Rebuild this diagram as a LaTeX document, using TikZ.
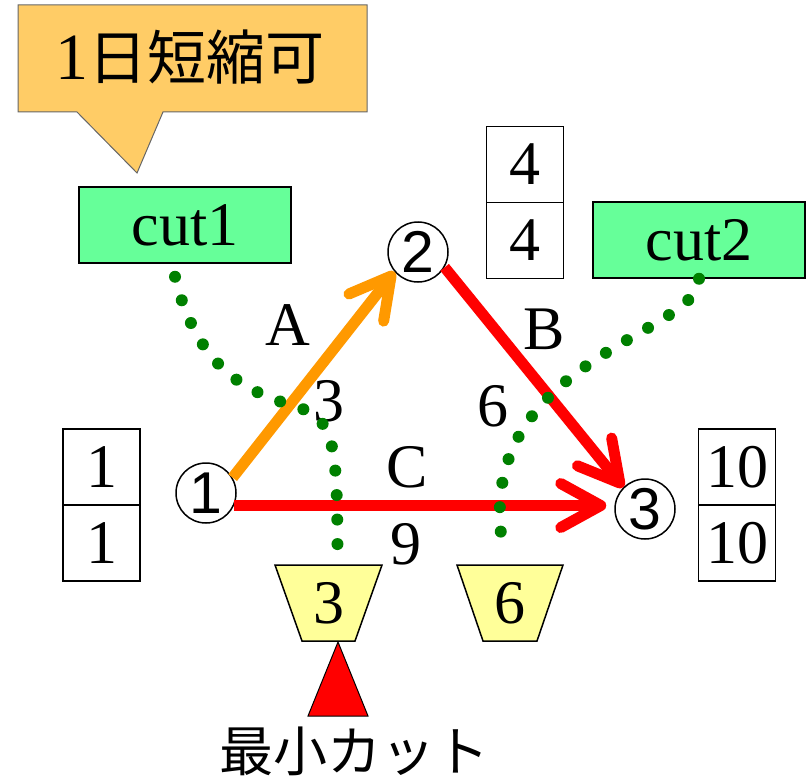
\documentclass[tikz,border=0pt]{standalone}
\usepackage{fontspec}
\setmainfont{Liberation Serif}
\newfontfamily\circfont{Liberation Sans}
\newfontfamily\jpfont{Noto Sans CJK JP}
\usepackage{xcolor}
\usetikzlibrary{positioning,shapes.geometric,arrows.meta}
\definecolor{cutgreen}{RGB}{102,255,153}
\definecolor{dotgreen}{RGB}{0,128,0}
\definecolor{aorange}{RGB}{255,153,0}
\definecolor{notebg}{RGB}{255,204,102}
\definecolor{capyellow}{RGB}{255,255,153}
\newcommand{\numsize}{\fontsize{62}{68}\selectfont}
\tikzset{
        vtx/.style={circle,draw,fill=white,line width=1.5pt,minimum size=60pt,inner sep=0pt,font=\circfont\fontsize{59}{62}\selectfont},
        cell/.style={draw,line width=1.5pt,minimum width=77pt,minimum height=76pt,inner sep=0pt,outer sep=0pt},
        cutbox/.style={draw,line width=1.5pt,fill=cutgreen,minimum width=212pt,minimum height=76pt,inner sep=0pt},
        capbox/.style={minimum width=107pt,minimum height=76pt,inner sep=0pt},
        capfill/.style={draw,line width=1.5pt,fill=capyellow},
        flow/.style={line width=11pt,-{Straight Barb[length=40pt,width=44pt,round]}},
        cutline/.style={dotgreen,line width=12pt,line cap=round,dash pattern=on 0pt off 24.5pt}
}
\begin{document}
\begin{tikzpicture}[x=1pt,y=-1pt,font=\numsize]
        \useasboundingbox (0,0) rectangle (811,781);
        \filldraw[fill=notebg,draw=black!60,line width=1pt] (18,5) -- (367,5) -- (367,112) -- (163,112) -- (137,173) -- (77,112) -- (18,112) -- cycle;
        \node(note) at (190,57) {\fontsize{66}{70}\selectfont 1\jpfont\fontsize{59}{62}\selectfont 日短縮可};
        \node[cutbox](cut1) at (185,225) {cut1};
        \node[cutbox](cut2) at (699,240) {cut2};
        \node[vtx](n1) at (206,493) {1};
        \node[vtx](n2) at (418,252) {2};
        \node[vtx](n3) at (645,509) {3};
        \node[cell](t1a) at (101.5,467) {1};
        \node[cell,below=0pt of t1a](t1b) {1};
        \node[cell](t2a) at (525,164.5) {4};
        \node[cell,below=0pt of t2a](t2b) {4};
        \node[cell](t3a) at (737,467) {10};
        \node[cell,below=0pt of t3a](t3b) {10};
        \node(ea) at (288,325) {A};
        \node(eb) at (544,329) {B};
        \node(ec) at (407,467) {C};
        \node(wa) at (329,401) {3};
        \node(wb) at (493,406) {6};
        \node(wc) at (406,544) {9};
        \filldraw[capfill] (275,565) -- (382,565) -- (355,641) -- (302,641) -- cycle;
        \filldraw[capfill] (457,565) -- (563,565) -- (537,641) -- (483,641) -- cycle;
        \node[capbox](tr1) at (328.5,603) {3};
        \node[capbox](tr2) at (510,603) {6};
        \node[font=\jpfont\fontsize{54}{60}\selectfont](mincut) at (354,751) {最小カット};
        \filldraw[fill=red,line width=1pt] (338,642) -- (368,716) -- (308,716) -- cycle;
        \draw[flow,aorange](n1.30)--(n2.220);
        \draw[flow,red](n2.-30)--(n3.135);
        \draw[flow,red,shorten >=8pt](n1.-24)--(n1.-24 -| n3.west);
        \draw[cutline]([xshift=-10pt,yshift=-13pt]cut1.south) .. controls (200,380) and (260,395) .. (300,408) .. controls (335,420) and (337,450) .. ([xshift=9pt,yshift=17pt]tr1.north);
        \draw[cutline](cut2.south) .. controls (700,335) and (470,360) .. ([xshift=-7pt,yshift=17pt]tr2.north);
\end{tikzpicture}
\end{document}
